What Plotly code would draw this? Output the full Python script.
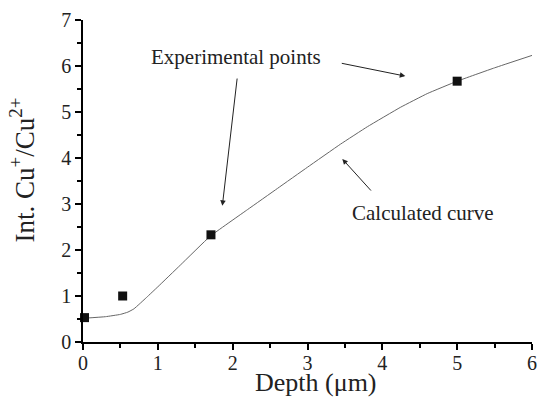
import plotly.graph_objects as go

# Experimental points
exp_x = [0.02, 0.53, 1.71, 5.0]
exp_y = [0.53, 1.0, 2.33, 5.67]

# Calculated curve
calc_x = [0.0, 0.3, 0.5, 0.6, 0.68, 0.75, 0.85, 1.0, 1.3, 1.7, 2.2, 2.6, 3.0, 3.44, 3.8, 4.24, 4.6, 5.0, 5.5, 6.0]
calc_y = [0.515, 0.55, 0.6, 0.65, 0.72, 0.82, 0.97, 1.2, 1.67, 2.3, 2.88, 3.34, 3.8, 4.3, 4.68, 5.1, 5.4, 5.67, 5.96, 6.23]

FONT = "Liberation Serif"

fig = go.Figure()
fig.add_trace(go.Scatter(x=calc_x, y=calc_y, mode="lines",
                         line=dict(color="#666666", width=1, shape="spline", smoothing=0.3),
                         showlegend=False, hoverinfo="skip"))
fig.add_trace(go.Scatter(x=exp_x, y=exp_y, mode="markers",
                         marker=dict(symbol="square", size=9, color="#111111"),
                         showlegend=False, cliponaxis=False))

axis_common = dict(showline=True, linecolor="black", linewidth=1.5,
                   ticks="outside", ticklen=6, tickwidth=1.5, tickcolor="black",
                   showgrid=False, zeroline=False, mirror=False, automargin=False,
                   tickmode="linear", tick0=0, dtick=1,
                   tickfont=dict(family=FONT, size=20, color="#222"),
                   minor=dict(ticks="outside", dtick=0.5, tick0=0, ticklen=4, tickwidth=1.5, tickcolor="black", showgrid=False))

fig.update_xaxes(range=[0, 6], ticklabelstandoff=-4, **axis_common)
fig.update_yaxes(range=[0, 7], **axis_common)

# Axis titles
fig.add_annotation(x=0.519, y=-0.177, xref="paper", yref="paper", text="Depth (\u03bcm)",
                   showarrow=False, font=dict(family=FONT, size=26, color="#222"),
                   xanchor="center", yanchor="bottom")
fig.add_annotation(x=-0.135, y=0.534, xref="paper", yref="paper",
                   text="Int. Cu<sup>+</sup>/Cu<sup>2+</sup>", textangle=-90,
                   showarrow=False, font=dict(family=FONT, size=27, color="#222"),
                   xanchor="center", yanchor="middle")

ann_font = dict(family=FONT, size=21, color="#222")
fig.add_annotation(x=2.05, y=6.2, xref="x", yref="y", text="Experimental points",
                   showarrow=False, font=ann_font)
fig.add_annotation(x=4.54, y=2.8, xref="x", yref="y", text="Calculated curve",
                   showarrow=False, font=ann_font)

arrow_style = dict(showarrow=True, arrowhead=2, arrowsize=1.1, arrowwidth=1, arrowcolor="#222",
                   xref="x", yref="y", axref="x", ayref="y", text="", standoff=0, startstandoff=0)
fig.add_annotation(x=1.862, y=2.96, ax=2.062, ay=5.76, **arrow_style)
fig.add_annotation(x=4.307, y=5.78, ax=3.438, ay=6.065, **arrow_style)
fig.add_annotation(x=3.465, y=3.98, ax=3.866, ay=3.26, **arrow_style)

fig.update_layout(width=538, height=399, margin=dict(l=83, r=6, t=20, b=57),
                  paper_bgcolor="white", plot_bgcolor="white",
                  font=dict(family=FONT, color="#222"))
fig.write_html("out.html")
